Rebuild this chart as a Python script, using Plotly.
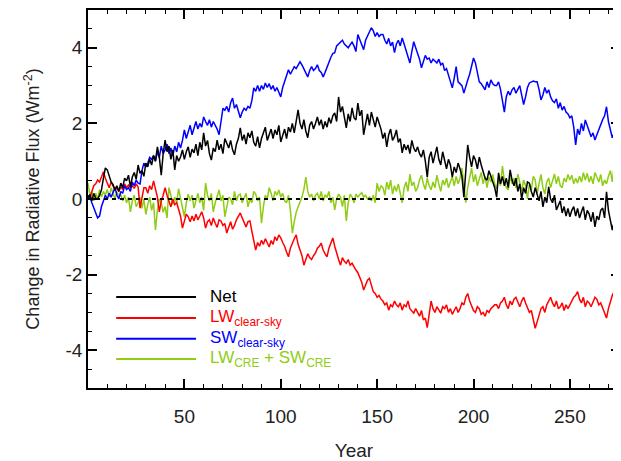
import plotly.graph_objects as go

years = list(range(0, 276))

net = [
    0.00, 0.12, -0.05, 0.15, 0.02, 0.00, 0.10, 0.24, 0.55, 0.82,
    0.77, 0.60, 0.45, 0.38, 0.24, 0.35, 0.20, 0.42, 0.30, 0.55,
    0.48, 0.63, 0.32, 0.58, 0.70, 0.52, 0.90, 0.68, 0.75, 0.60,
    0.95, 0.85, 1.05, 0.90, 1.15, 1.00, 1.38, 1.10, 0.63, 1.20,
    1.56, 1.25, 1.40, 1.05, 1.30, 0.77, 1.15, 1.00, 1.11, 1.30,
    1.05, 1.25, 1.38, 1.10, 1.32, 1.22, 1.45, 1.15, 1.50, 1.30,
    1.75, 1.40, 1.55, 1.20, 1.03, 1.35, 1.25, 1.56, 1.30, 1.45,
    1.20, 1.60, 1.48, 1.35, 1.55, 1.30, 1.17, 1.45, 1.60, 1.88,
    1.55, 1.70, 1.45, 1.75, 1.62, 1.80, 1.50, 1.40, 1.65, 1.35,
    1.60, 1.75, 1.90, 1.55, 1.70, 1.85, 1.60, 1.83, 1.70, 1.95,
    1.51, 1.70, 1.85, 1.60, 1.90, 1.77, 2.00, 1.75, 2.05, 2.36,
    2.00, 1.85, 2.10, 1.80, 1.62, 1.95, 2.05, 1.85, 2.00, 2.17,
    1.95, 2.10, 1.85, 2.05, 1.90, 2.15, 2.00, 2.20, 2.28, 2.05,
    2.70, 2.30, 2.45, 2.10, 1.88, 2.25, 2.05, 2.41, 2.15, 2.09,
    2.54, 2.20, 2.35, 1.70, 2.00, 2.25, 1.95, 2.30, 2.10, 1.90,
    2.17, 2.00, 1.85, 1.60, 1.75, 1.38, 1.70, 1.85, 1.55, 1.65,
    1.83, 1.50, 1.60, 1.22, 1.45, 1.30, 1.43, 1.20, 1.55, 1.35,
    1.25, 1.38, 1.20, 1.11, 1.30, 1.00, 0.58, 1.10, 1.25, 0.95,
    1.20, 1.38, 1.05, 0.90, 1.25, 1.03, 0.80, 1.05, 0.90, 0.58,
    0.85, 0.70, 0.95, 0.80, 0.60, 0.05, 0.70, 1.43, 1.10, 0.85,
    1.15, 1.03, 0.80, 1.11, 0.90, 0.70, 0.55, 0.50, 0.75, 0.60,
    0.45, 0.30, 0.05, 0.69, 0.40, 0.60, 0.35, 0.55, 0.30, 0.77,
    0.50, 0.35, 0.55, 0.20, 0.40, 0.00, 0.30, 0.15, 0.45, 0.42,
    0.20, 0.05, 0.30, 0.10, -0.05, 0.20, -0.21, 0.05, -0.10, 0.32,
    0.00, -0.10, 0.10, -0.29, -0.15, -0.05, -0.37, -0.20, -0.45, -0.25,
    -0.47, -0.30, -0.20, -0.45, -0.25, -0.50, -0.34, -0.20, -0.55, -0.30,
    -0.40, -0.60, -0.35, -0.74, -0.45, -0.55, -0.30, -0.24, -0.50, 0.19,
    -0.30, -0.55, -0.82, -0.60, -0.75, -0.47,
]

lw_clear = [
    0.10, 0.00, 0.20, 0.35, 0.40, 0.50, 0.45, 0.60, 0.72, 0.55,
    0.42, 0.30, 0.45, 0.35, 0.24, 0.30, 0.20, 0.32, 0.25, 0.40,
    0.30, 0.37, 0.30, 0.35, 0.28, 0.40, 0.32, -0.24, 0.05, 0.30,
    0.30, 0.15, 0.35, 0.25, 0.48, 0.30, 0.05, -0.34, -0.05, 0.10,
    0.30, 0.10, -0.05, -0.21, 0.00, -0.15, -0.10, -0.30, -0.45, -0.77,
    -0.55, -0.40, -0.47, -0.60, -0.45, -0.58, -0.40, -0.55, -0.45, -0.34,
    -0.50, -0.77, -0.60, -0.55, -0.70, -0.50, -0.64, -0.75, -0.55, -0.58,
    -0.70, -0.65, -0.90, -0.75, -0.60, -0.80, -0.70, -0.55, -0.45, -0.37,
    -0.50, -0.65, -0.74, -0.60, -0.58, -0.85, -1.10, -1.35, -1.15, -1.25,
    -1.09, -1.20, -1.05, -1.15, -1.27, -1.10, -1.20, -1.00, -1.10, -0.95,
    -1.03, -1.15, -1.25, -1.40, -1.53, -1.30, -1.15, -1.05, -0.95, -1.20,
    -1.35, -1.50, -1.75, -1.60, -1.45, -1.55, -1.60, -1.50, -1.43, -1.30,
    -1.25, -1.17, -1.35, -1.45, -1.53, -1.30, -1.15, -1.03, -1.25, -1.45,
    -1.60, -1.75, -1.55, -1.65, -1.70, -1.60, -1.75, -1.70, -1.80, -1.88,
    -1.95, -2.07, -2.20, -2.41, -2.25, -2.15, -2.10, -2.30, -2.45, -2.50,
    -2.60, -2.55, -2.65, -2.70, -2.80, -2.75, -2.94, -2.80, -2.85, -2.70,
    -2.80, -2.85, -2.75, -2.94, -2.80, -2.85, -2.70, -2.90, -2.95, -3.02,
    -2.90, -3.00, -3.10, -2.95, -3.20, -3.15, -3.40, -3.05, -2.70, -2.90,
    -3.00, -2.85, -2.95, -3.02, -2.85, -2.90, -2.80, -3.00, -2.90, -3.05,
    -2.95, -2.85, -3.00, -2.90, -2.75, -2.80, -2.60, -2.50, -2.70, -2.85,
    -2.95, -3.00, -2.85, -2.90, -3.05, -3.00, -3.10, -2.95, -3.00, -2.90,
    -2.85, -2.80, -2.80, -2.90, -2.75, -2.70, -2.60, -2.80, -2.90, -2.70,
    -2.80, -2.65, -2.60, -2.75, -2.85, -2.70, -2.60, -2.75, -2.90, -3.00,
    -2.95, -3.20, -3.42, -3.25, -3.05, -2.90, -2.85, -3.00, -2.80, -2.70,
    -2.60, -2.75, -2.85, -2.70, -2.90, -2.85, -2.75, -2.95, -2.80, -2.90,
    -2.80, -2.70, -2.60, -2.55, -2.45, -2.65, -2.75, -2.60, -2.85, -2.70,
    -2.75, -2.85, -2.70, -2.60, -2.65, -2.80, -2.75, -2.90, -3.00, -3.15,
    -2.90, -2.70, -2.55, -2.45, -2.33, -2.50,
]

sw_clear = [
    0.10, 0.05, -0.10, -0.25, -0.35, -0.50, -0.45, -0.20, -0.05, 0.10,
    0.00, 0.15, 0.05, 0.20, 0.30, 0.10, 0.00, 0.20, 0.15, 0.35,
    0.25, 0.30, 0.20, 0.45, 0.35, 0.50, 0.42, 0.40, 0.75, 0.95,
    0.85, 0.95, 1.10, 1.05, 1.15, 1.00, 1.25, 1.10, 1.40, 1.20,
    1.30, 1.45, 1.20, 1.35, 1.15, 1.40, 1.25, 1.50, 1.35, 1.55,
    1.83, 1.60, 1.75, 1.95, 1.70, 1.90, 2.05, 1.85, 2.00, 1.90,
    2.17, 2.05, 1.95, 2.10, 1.90, 2.05, 1.95, 1.85, 1.70, 2.10,
    2.40, 2.35, 2.45, 2.30, 2.55, 2.67, 2.40, 2.50, 2.30, 2.15,
    2.30, 2.40, 2.35, 2.45, 2.40, 2.60, 2.94, 2.85, 3.00, 2.85,
    3.00, 2.90, 3.07, 2.95, 3.05, 2.90, 3.00, 2.85, 2.95, 2.80,
    2.70, 2.95, 3.10, 3.25, 3.42, 3.30, 3.40, 3.50, 3.45, 3.55,
    3.63, 3.55, 3.45, 3.35, 3.23, 3.40, 3.50, 3.40, 3.45, 3.55,
    3.40, 3.35, 3.23, 3.35, 3.50, 3.60, 3.75, 3.85, 3.87, 4.05,
    4.10, 4.15, 4.20, 4.10, 4.05, 4.00, 4.08, 4.15, 4.05, 3.90,
    4.35, 4.20, 4.10, 3.95, 4.20, 4.30, 4.40, 4.53, 4.45, 4.30,
    4.40, 4.30, 4.35, 4.35, 4.20, 4.10, 4.25, 4.05, 4.15, 3.87,
    4.10, 4.20, 4.05, 4.26, 4.10, 3.95, 3.80, 3.60, 3.90, 4.16,
    4.00, 3.85, 3.70, 3.47, 3.65, 3.80, 3.70, 3.73, 3.60, 3.70,
    3.65, 3.60, 3.70, 3.55, 3.60, 3.40, 3.45, 3.30, 3.15, 2.94,
    3.20, 3.50, 3.10, 3.05, 3.00, 2.80, 3.00, 3.15, 3.30, 3.55,
    3.73, 3.60, 3.35, 3.10, 3.05, 2.95, 2.89, 3.10, 2.95, 3.15,
    3.05, 3.00, 3.00, 3.10, 2.90, 2.60, 2.30, 2.70, 2.85, 2.75,
    2.89, 2.95, 2.80, 2.90, 3.00, 2.75, 2.50, 2.70, 2.95, 3.07,
    3.10, 3.12, 3.10, 3.10, 2.90, 2.62, 2.75, 2.95, 2.80, 2.89,
    2.70, 2.60, 2.55, 2.65, 2.40, 2.55, 2.35, 2.45, 2.30, 2.25,
    2.15, 2.20, 1.90, 1.43, 1.85, 1.70, 2.00, 1.80, 2.09, 1.95,
    1.80, 1.65, 1.75, 1.56, 1.70, 1.85, 1.95, 2.10, 2.20, 2.44,
    2.05, 1.80, 1.62, 1.75, 1.35, 1.50,
]

cre_total = [
    0.42, 0.10, 0.20, -0.05, 0.15, 0.00, 0.25, 0.05, 0.20, 0.10,
    0.25, 0.05, 0.30, 0.15, 0.00, 0.20, 0.05, 0.13, -0.05, 0.10,
    -0.10, 0.05, -0.34, -0.05, 0.10, -0.20, -0.10, 0.05, -0.25, 0.00,
    -0.41, -0.15, 0.05, -0.30, -0.10, -0.82, -0.30, 0.00, -0.10, -0.35,
    -0.20, -0.50, 0.30, 0.10, -0.15, 0.05, -0.10, 0.27, 0.00, -0.20,
    -0.47, -0.10, 0.13, -0.05, 0.10, -0.24, 0.00, 0.15, -0.10, 0.05,
    -0.30, 0.42, 0.10, -0.05, 0.15, -0.34, -0.10, 0.05, 0.24, -0.05,
    0.10, -0.47, -0.20, 0.05, 0.00, -0.15, 0.20, -0.05, 0.10, 0.13,
    -0.10, 0.05, 0.15, -0.21, 0.00, -0.10, 0.20, 0.13, -0.05, 0.05,
    -0.64, -0.20, 0.10, 0.00, 0.30, 0.15, -0.05, 0.20, 0.10, 0.24,
    0.05, 0.15, -0.05, -0.10, 0.10, -0.30, -0.90, -0.60, -0.35, -0.21,
    -0.10, 0.05, 0.25, 0.58, 0.20, 0.05, 0.13, -0.05, 0.10, 0.15,
    0.00, 0.20, -0.05, 0.10, 0.05, 0.20, -0.10, 0.05, -0.29, 0.00,
    0.13, 0.05, -0.20, 0.10, -0.58, -0.10, 0.13, 0.05, -0.10, 0.13,
    0.05, 0.10, 0.17, 0.05, 0.10, 0.00, 0.05, -0.05, 0.10, -0.10,
    0.42, 0.20, 0.35, 0.30, 0.10, 0.45, 0.25, 0.50, 0.13, 0.35,
    0.20, 0.40, 0.15, -0.10, 0.30, 0.45, 0.20, 0.66, 0.35, 0.45,
    0.20, 0.30, 0.50, 0.63, 0.40, 0.25, 0.55, 0.35, 0.24, 0.45,
    0.30, 0.63, 0.40, 0.20, 0.50, 0.37, 0.55, 0.30, 0.45, 0.58,
    0.35, 0.60, 0.40, 0.55, 0.82, 0.40, -0.10, 0.30, 0.60, 0.82,
    0.45, 0.65, 0.35, 0.50, 0.70, 0.40, 0.60, 0.30, 0.58, 0.45,
    0.65, 0.40, 0.27, 0.55, 0.35, 0.87, 0.50, 0.30, 0.24, 0.60,
    0.40, 0.55, 0.30, 0.66, 0.45, 0.20, 0.50, 0.35, 0.00, 0.40,
    0.25, 0.60, 0.50, 0.15, 0.40, 0.65, 0.30, 0.13, 0.45, 0.55,
    0.30, 0.50, 0.66, 0.40, 0.60, 0.35, 0.30, 0.55, 0.45, 0.65,
    0.50, 0.63, 0.40, 0.55, 0.42, 0.60, 0.45, 0.70, 0.50, 0.68,
    0.45, 0.60, 0.40, 0.70, 0.58, 0.45, 0.65, 0.35, 0.50, 0.40,
    0.60, 0.75, 0.45, 0.90, 0.13, 0.60,
]

series_names = ["Net", "LW<sub>clear-sky</sub>", "SW<sub>clear-sky</sub>",
                "LW<sub>CRE</sub> + SW<sub>CRE</sub>"]
series_colors = ["#000000", "#ff0000", "#0000ff", "#8fcc14"]
series_values = [net, lw_clear, sw_clear, cre_total]

x_tickvals = [50, 100, 150, 200, 250]
x_ticktext = ["50", "100", "150", "200", "250"]
y_tickvals = [-4, -2, 0, 2, 4]
y_ticktext = ["-4", "-2", "0", "2", "4"]

FONT = "Liberation Sans, Arial, Helvetica, sans-serif"
TXT = "#222222"

fig = go.Figure()
# draw order: green first, then red, blue, black on top
for idx in [3, 1, 2, 0]:
    fig.add_trace(go.Scatter(
        x=years, y=series_values[idx], mode="lines",
        line=dict(color=series_colors[idx], width=1.5),
        name=series_names[idx], showlegend=False, hoverinfo="skip",
    ))

# zero reference line
fig.add_shape(type="line", xref="x", yref="y", x0=0, x1=276, y0=0, y1=0,
              line=dict(color="black", width=2, dash="4px,4px"), layer="above")

# manual legend
leg_y = [0.241, 0.185, 0.130, 0.077]
for i, name in enumerate(series_names):
    fig.add_shape(type="line", xref="paper", yref="paper",
                  x0=0.053, x1=0.203, y0=leg_y[i], y1=leg_y[i],
                  line=dict(color=series_colors[i], width=2))
    fig.add_annotation(xref="paper", yref="paper", x=0.2274, y=leg_y[i],
                       xanchor="left", yanchor="middle", showarrow=False,
                       text=name, borderpad=0,
                       font=dict(family=FONT, size=17, color=series_colors[i]))

axis_common = dict(
    showline=True, linecolor="black", linewidth=1.5, mirror="ticks",
    ticks="inside", ticklen=9, tickwidth=1.5, tickcolor="black",
    showgrid=False, zeroline=False, automargin=False,
    tickfont=dict(family=FONT, size=19, color=TXT),
)

fig.update_xaxes(
    range=[0, 276], tickvals=x_tickvals, ticktext=x_ticktext,
    ticklabelstandoff=10,
    minor=dict(dtick=10, tick0=0, ticks="inside", ticklen=4, tickwidth=1,
               tickcolor="black"),
    title=dict(text="Year", font=dict(family=FONT, size=19, color=TXT),
               standoff=25),
    **axis_common,
)
fig.update_yaxes(
    range=[-5, 5], tickvals=y_tickvals, ticktext=y_ticktext,
    minor=dict(dtick=0.5, tick0=0, ticks="inside", ticklen=4, tickwidth=1,
               tickcolor="black"),
    title=dict(text="Change in Radiative Flux (Wm<sup>-2</sup>)",
               font=dict(family=FONT, size=18, color=TXT), standoff=21),
    **axis_common,
)

# the page body adds an 8 px offset, so the figure is sized to fill the rest
fig.update_layout(
    width=613, height=453,
    margin=dict(l=80, r=1, t=2, b=73, pad=0),
    paper_bgcolor="white", plot_bgcolor="white",
    showlegend=False,
)

fig.write_html("out.html")
